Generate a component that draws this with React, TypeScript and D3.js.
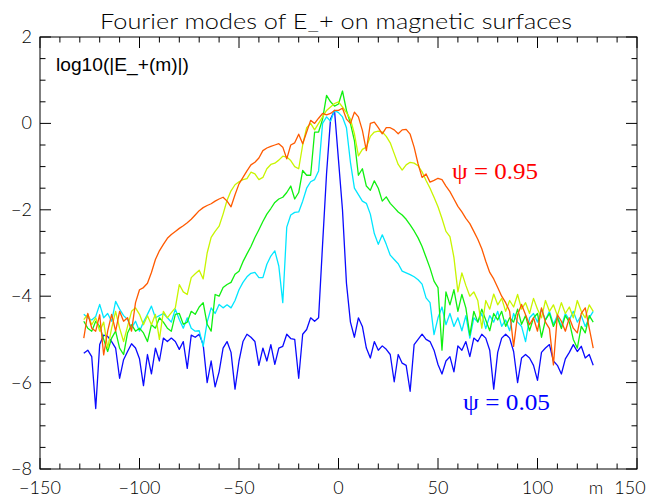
import React from 'react';
import * as d3 from 'd3';

const width = 648;
const height = 497;
const frame = { left: 40, right: 637, top: 37, bottom: 469 };

// Fourier mode numbers (every second mode)
const modes = d3.range(-128, 129, 2);

// log10(|E_+(m)|) on each surface
const psi005 = [
  -5.32, -5.25, -5.4, -6.6, -5.12, -4.9, -4.93, -5.05, -5.2, -5.9,
  -5.47, -5.28, -5.1, -5.2, -5.45, -6.07, -5.35, -5.8, -5.2, -5.5,
  -4.97, -5.05, -4.97, -5.05, -5.23, -5.05, -5.67, -4.9, -4.95, -4.88,
  -5.12, -6.0, -5.5, -6.1, -5.75, -5.2, -5.05, -5.3, -6.15, -5.5,
  -5.05, -4.88, -4.95, -5.05, -5.6, -5.2, -5.5, -5.12, -5.58, -5.2,
  -5.16, -4.88, -4.98, -5.0, -5.9, -4.88, -4.77, -4.5, -4.58, -4.5,
  -2.8, -1.16, 0.1, 0.3, -0.85, -2.0, -3.7, -4.6, -4.95, -4.5,
  -4.7, -5.2, -5.43, -5.05, -5.25, -5.15, -5.23, -5.35, -5.98, -5.35,
  -5.55, -5.6, -6.2, -5.12, -5.0, -4.88, -5.0, -5.05, -5.25, -5.58,
  -5.8, -5.5, -5.4, -5.75, -5.15, -5.25, -5.05, -5.4, -4.97, -5.05,
  -4.88, -4.97, -5.25, -6.15, -5.3, -4.97, -4.88, -4.97, -5.28, -6.0,
  -5.43, -5.35, -5.43, -5.6, -5.95, -5.3, -5.2, -5.12, -5.5, -5.6,
  -5.8, -5.45, -5.3, -5.12, -5.28, -5.16, -5.43, -5.35, -5.6,
];

const psi025 = [
  -4.42, -4.5, -4.55, -4.47, -4.19, -4.5, -4.4, -4.58, -4.12, -4.3,
  -4.45, -4.54, -4.74, -4.58, -4.81, -4.6, -4.42, -4.23, -4.5, -4.45,
  -4.4, -4.5, -4.6, -4.3, -4.54, -4.74, -4.5, -4.74, -4.81, -4.8,
  -5.16, -4.6, -4.27, -4.4, -4.19, -4.27, -4.2, -4.27, -4.1, -3.85,
  -3.68, -3.55, -3.47, -3.45, -3.57, -3.57, -3.26, -3.07, -2.95, -3.3,
  -4.15, -2.4, -2.12, -2.06, -2.05, -1.8, -1.5, -1.35, -1.3, -1.1,
  0.0, 0.15, 0.05, 0.3, 0.25, 0.15, -0.1, -0.9, -1.5, -1.65,
  -1.8, -1.85, -2.1, -2.55, -2.8, -2.58, -2.8, -3.05, -3.15, -3.25,
  -3.42, -3.46, -3.5, -3.55, -3.62, -3.72, -4.04, -4.15, -4.89, -4.5,
  -4.25, -4.66, -4.4, -4.7, -4.5, -4.8, -4.45, -4.97, -4.5, -4.6,
  -4.4, -4.75, -4.45, -4.6, -4.35, -4.7, -4.55, -4.8, -4.4, -4.6,
  -4.7, -5.05, -4.5, -4.4, -4.6, -4.3, -4.55, -4.35, -4.65, -4.45,
  -4.7, -4.4, -4.55, -4.35, -4.6, -4.45, -4.7, -4.5, -4.35,
];

const psi050 = [
  -4.58, -4.74, -4.81, -4.58, -4.7, -5.0, -5.28, -4.97, -4.81, -5.2,
  -5.35, -4.85, -4.66, -4.81, -4.74, -4.85, -5.05, -4.66, -4.74, -4.5,
  -4.6, -4.74, -4.81, -4.42, -4.4, -4.65, -4.6, -4.35, -4.42, -4.25,
  -4.15, -4.65, -4.81, -3.96, -4.0, -3.8, -3.73, -3.68, -3.49, -3.42,
  -3.2, -3.02, -2.85, -2.64, -2.46, -2.27, -2.1, -1.97, -1.83, -1.75,
  -1.71, -1.6, -1.45, -1.75, -1.6, -1.09, -1.2, -1.2, -0.2, -0.2,
  0.1, 0.65, 0.5, 0.4, 0.45, 0.75, 0.3, 0.0, -0.4, -1.2,
  -1.05, -1.45, -1.55, -1.33, -1.5, -1.8, -1.7, -1.85, -1.95, -2.05,
  -2.12, -2.22, -2.35, -2.49, -2.65, -2.85, -3.1, -3.35, -3.65, -3.8,
  -5.25, -3.9, -4.2, -3.85, -4.35, -3.96, -4.27, -4.9, -4.35, -4.6,
  -4.3, -4.55, -4.8, -4.4, -4.55, -4.35, -4.7, -4.5, -4.6, -4.3,
  -4.65, -4.45, -4.8, -4.5, -4.4, -4.95, -4.55, -4.4, -4.7, -4.5,
  -4.75, -4.45, -4.6, -5.0, -5.2, -4.7, -4.85, -4.45, -4.6,
];

const psi075 = [
  -4.54, -4.42, -4.66, -4.5, -4.81, -4.6, -5.2, -4.74, -4.35, -4.74,
  -5.05, -4.7, -4.35, -4.27, -4.42, -4.66, -4.45, -4.66, -4.42, -5.0,
  -4.35, -4.5, -4.38, -4.27, -3.73, -3.9, -3.96, -3.57, -3.48, -3.4,
  -3.6, -3.0, -2.64, -2.5, -2.38, -2.1, -1.78, -1.56, -1.42, -1.35,
  -1.3, -1.28, -1.13, -1.17, -1.3, -1.25, -1.05, -0.95, -0.92, -0.85,
  -0.76, -0.78, -0.86, -1.0, -1.05, -0.5, -0.1, 0.0, -0.15, 0.0,
  0.15, 0.3, 0.38, 0.46, 0.5, 0.38, 0.25, 0.1, -0.24, -0.75,
  -0.6, -0.55, -0.3, -0.2, -0.18, -0.2, -0.3, -0.45, -0.7, -0.95,
  -1.08, -0.96, -0.9, -0.92, -0.98, -1.12, -1.32, -1.5, -1.71, -1.93,
  -2.2, -2.5, -2.62, -3.1, -3.9, -3.46, -3.75, -4.0, -3.9, -4.1,
  -4.74, -4.1, -4.3, -3.95, -4.2, -4.05, -4.35, -4.1, -4.25, -3.96,
  -4.3, -4.15, -4.4, -4.05, -4.3, -4.5, -4.1, -4.35, -4.2, -4.45,
  -4.15, -4.4, -4.25, -4.5, -4.1, -4.35, -4.5, -4.2, -4.35,
];

const psi095 = [
  -4.97, -4.4, -4.74, -4.81, -4.43, -5.36, -4.81, -4.42, -4.81, -4.35,
  -4.58, -4.5, -4.81, -4.15, -3.85, -3.8, -3.7, -3.45, -3.15, -2.95,
  -2.8, -2.66, -2.57, -2.5, -2.43, -2.37, -2.3, -2.22, -2.12, -2.02,
  -1.95, -1.9, -1.86, -1.8, -1.75, -1.71, -1.8, -1.93, -1.65, -1.4,
  -1.25, -1.1, -0.96, -0.9, -0.8, -0.63, -0.57, -0.53, -0.5, -0.47,
  -0.55, -0.82, -0.5, -0.45, -0.25, -0.47, -0.2, 0.07, 0.0, 0.12,
  0.23, 0.2, 0.23, 0.3, 0.3, 0.35, 0.1, 0.0, 0.26, 0.15,
  -0.16, -0.63, 0.0, 0.03, -0.1, -0.24, -0.1, -0.1, -0.15, -0.24,
  -0.15, -0.14, -0.25, -0.55, -0.94, -1.25, -1.17, -1.36, -1.32, -1.27,
  -1.3, -1.45, -1.58, -1.75, -1.92, -2.05, -2.2, -2.32, -2.5, -2.68,
  -2.9, -3.19, -3.45, -3.6, -3.8, -4.0, -4.15, -4.35, -5.16, -4.43,
  -4.19, -4.43, -4.66, -4.5, -4.81, -4.27, -4.6, -4.75, -5.59, -4.43,
  -4.58, -4.81, -4.5, -4.74, -4.85, -4.4, -4.27, -4.74, -5.2,
];

// drawn in this order, outermost surface last
const curves = [
  { name: 'psi005', values: psi005, color: '#0a0aff' },
  { name: 'psi025', values: psi025, color: '#00e6ff' },
  { name: 'psi050', values: psi050, color: '#10f010' },
  { name: 'psi075', values: psi075, color: '#c8f500' },
  { name: 'psi095', values: psi095, color: '#ff5a00' },
];

const xMajor = d3.range(-150, 151, 50);
const xMinor = d3.range(-150, 151, 10);
const yMajor = d3.range(-8, 2.01, 2);
const yMinor = d3.range(-8, 2.01, 0.5);

const labelFont = 'Lato, "DejaVu Sans", sans-serif';
const minus = (v: number) => (v < 0 ? '\u2212' + Math.abs(v) : String(v));

export default function App() {
  const x = d3.scaleLinear().domain([-150, 150]).range([frame.left, frame.right]);
  const y = d3.scaleLinear().domain([-8, 2]).range([frame.bottom, frame.top]);

  const line = d3.line<number>()
    .x((d, i) => x(modes[i]))
    .y(d => y(d));

  const major = 11, minor = 5.5;

  return (
    <div>
      <style>{'body{margin:0}'}</style>
      <svg width={width} height={height} style={{ display: 'block', background: '#fff' }}>
        <text x={336} y={29} textAnchor="middle" fontFamily={labelFont} fontWeight={300}
          fontSize={21} textLength={472} lengthAdjust="spacingAndGlyphs">
          Fourier modes of E_+ on magnetic surfaces
        </text>

        {curves.map(c => (
          <path key={c.name} d={line(c.values) || ''} fill="none" stroke={c.color}
            strokeWidth={1.3} strokeLinejoin="round" />
        ))}

        <rect x={frame.left} y={frame.top} width={frame.right - frame.left}
          height={frame.bottom - frame.top} fill="none" stroke="#000" strokeWidth={1} />

        <g stroke="#000" strokeWidth={1}>
          {xMinor.map(v => {
            const len = v % 50 === 0 ? major : minor;
            return (
              <g key={'x' + v}>
                <line x1={x(v)} x2={x(v)} y1={frame.bottom} y2={frame.bottom - len} />
                <line x1={x(v)} x2={x(v)} y1={frame.top} y2={frame.top + len} />
              </g>
            );
          })}
          {yMinor.map(v => {
            const len = v % 2 === 0 ? major : minor;
            return (
              <g key={'y' + v}>
                <line x1={frame.left} x2={frame.left + len} y1={y(v)} y2={y(v)} />
                <line x1={frame.right} x2={frame.right - len} y1={y(v)} y2={y(v)} />
              </g>
            );
          })}
        </g>

        <g fontFamily={labelFont} fontWeight={300} fontSize={18} fill="#000">
          {xMajor.map(v => (
            <text key={'xl' + v} x={v === 150 ? x(v) - 7 : x(v)} y={494} textAnchor="middle">{minus(v)}</text>
          ))}
          {yMajor.map(v => (
            <text key={'yl' + v} x={32} y={y(v) + 6} textAnchor="end">{minus(v)}</text>
          ))}
          <text x={596} y={494} textAnchor="middle">m</text>
        </g>

        <text x={56} y={71} fontFamily='"Liberation Sans", Arial, sans-serif' fontSize={18}
          textLength={133} lengthAdjust="spacingAndGlyphs">log10(|E_+(m)|)</text>

        <text x={452} y={179} fill="#ff0000" fontFamily='"Liberation Serif", "Times New Roman", serif'
          fontSize={23} textLength={86} lengthAdjust="spacingAndGlyphs">ψ = 0.95</text>
        <text x={463} y={410} fill="#0000ff" fontFamily='"Liberation Serif", "Times New Roman", serif'
          fontSize={23} textLength={87} lengthAdjust="spacingAndGlyphs">ψ = 0.05</text>
      </svg>
    </div>
  );
}
